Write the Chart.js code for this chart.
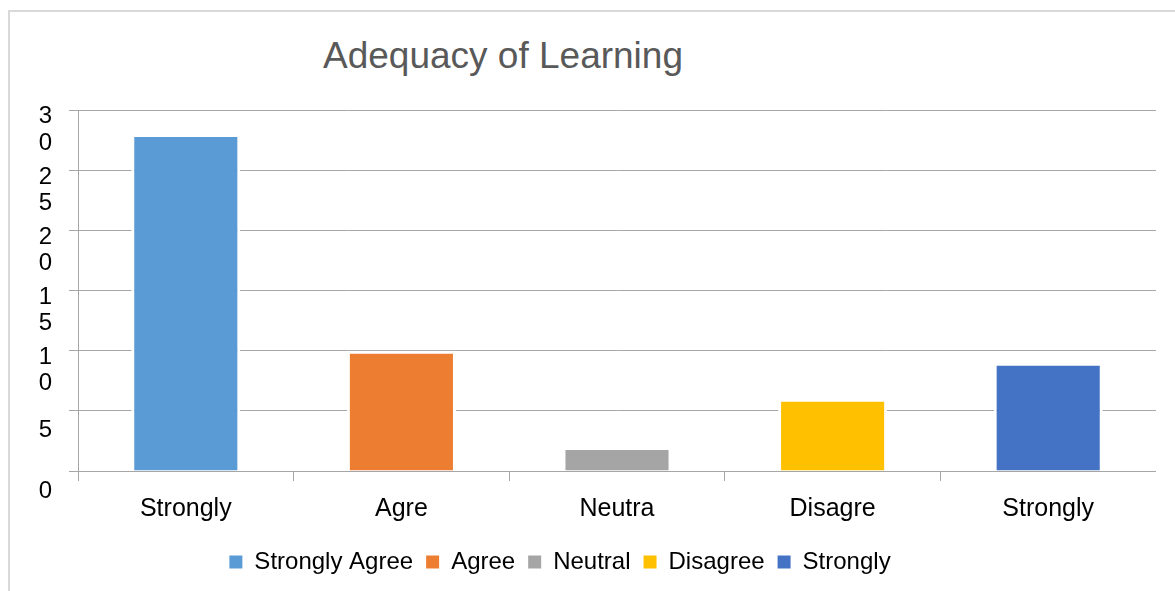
<!DOCTYPE html>
<html>
<head>
<meta charset="utf-8">
<script src="https://cdn.jsdelivr.net/npm/chart.js@4/dist/chart.umd.min.js"></script>
<style>
  html, body { margin: 0; padding: 0; background: #fff; overflow: hidden; }
  #frame {
    position: absolute; left: 8px; top: 10px; width: 1200px; height: 600px;
    border-left: 2px solid #d9d9d9; border-top: 2px solid #d9d9d9;
  }
  #title {
    position: absolute; left: 323px; top: 38px;
    font: 37px "Liberation Sans", Arial, sans-serif; line-height: 36px;
    color: #595959; white-space: nowrap;
  }
  #chart { position: absolute; left: -36px; top: 0; }
</style>
</head>
<body>
<div id="frame"></div>
<div id="title">Adequacy of Learning</div>
<canvas id="chart" width="1192" height="591"></canvas>
<script>
// categories as printed under the bars (they are cut short in the original)
const categories = ["Strongly", "Agre", "Neutra", "Disagre", "Strongly"];
const legendNames = ["Strongly Agree", "Agree", "Neutral", "Disagree", "Strongly"];
const counts = [28, 10, 2, 6, 9];
const barColors = ["#5b9bd5", "#ed7d31", "#a5a5a5", "#ffc000", "#4472c4"];
const yMin = 0;
const yMax = 30;
const yStep = 5;

const gridGray = "#a6a6a6";
const font = "'Liberation Sans', Arial, sans-serif";

new Chart(document.getElementById("chart"), {
  type: "bar",
  data: {
    labels: categories,
    datasets: [{
      data: counts,
      backgroundColor: barColors,
      borderColor: "#ffffff",
      borderWidth: 3,
      categoryPercentage: 1,
      barPercentage: 0.506,
    }],
  },
  options: {
    responsive: false,
    devicePixelRatio: 1,
    animation: false,
    layout: { padding: { top: 110, bottom: 7, left: 0, right: 0 } },
    scales: {
      x: {
        grid: { display: true, drawOnChartArea: false, drawTicks: true, tickLength: 10, color: gridGray, offset: true },
        border: { display: true, color: gridGray },
        ticks: { color: "#000", font: { family: font, size: 25 }, padding: 13, maxRotation: 0, autoSkip: false },
        afterFit: (scale) => { scale.height = 66; },
      },
      y: {
        min: yMin,
        max: yMax,
        grid: { color: gridGray, drawTicks: true, tickLength: 9, tickColor: gridGray },
        border: { display: true, color: gridGray },
        ticks: {
          stepSize: yStep,
          color: "#000",
          padding: 17,
          labelOffset: 20, // labels sit a little below their gridlines in the original
          font: { family: font, size: 24, lineHeight: 1.1 },
          // the narrow label column wraps two-digit numbers onto two lines
          callback: (v) => (v >= 10 ? String(v).split("") : String(v)),
        },
        afterFit: (scale) => { scale.width = 114; },
      },
    },
    plugins: {
      tooltip: { enabled: false },
      legend: {
        position: "bottom",
        labels: {
          color: "#595959",
          font: { family: font, size: 24 },
          boxWidth: 13,
          boxHeight: 13,
          padding: 13,
          generateLabels: () => legendNames.map((name, i) => ({
            text: name,
            fillStyle: barColors[i],
            strokeStyle: barColors[i],
            lineWidth: 0,
            hidden: false,
            index: i,
          })),
        },
      },
    },
  },
});
</script>
</body>
</html>
